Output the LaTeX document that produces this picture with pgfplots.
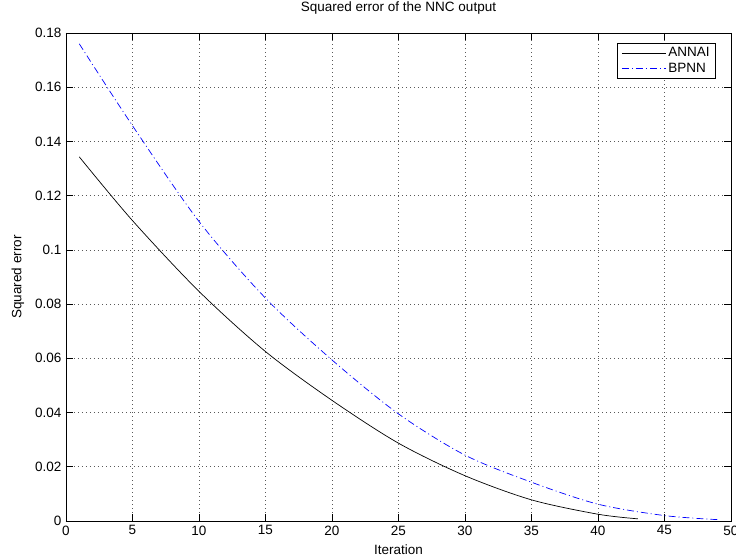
\documentclass[border=0pt]{standalone}
\usepackage{fontspec}
\setmainfont{Liberation Sans}
\usepackage{pgfplots}
\pgfplotsset{compat=1.18}

\begin{document}
\begin{tikzpicture}
\fontsize{13.5}{16}\selectfont
\begin{axis}[
    scale only axis,
    width=665pt, height=488pt,
    xmin=0, xmax=50,
    ymin=0, ymax=0.18,
    xtick={0,5,...,50},
    ytick={0,0.02,...,0.18},
    scaled y ticks=false,
    yticklabel style={/pgf/number format/fixed, /pgf/number format/precision=2},
    /pgf/number format/assume math mode=true,
    tick pos=both,
    tick align=inside,
    major tick length=7pt,
    tick style={black, line width=0.6pt},
    axis line style={black, line width=0.9pt},
    grid=major,
    grid style={black!65, line width=0.6pt, dash pattern=on 0.9pt off 3.1pt},
    title={Squared error of the NNC output},
    title style={at={(axis description cs:0.5,1)}, anchor=center, yshift=19pt},
    xlabel={Iteration},
    xlabel style={at={(axis description cs:0.5,0)}, anchor=center, yshift=-29pt},
    ylabel={Squared error},
    ylabel style={at={(axis description cs:-0.0722,0.5)}, anchor=center},
    legend style={at={(1,1)}, anchor=north east, xshift=-15pt, yshift=-10pt,
        draw=black, line width=0.9pt, fill=white, row sep=0pt,
        inner xsep=4pt, inner ysep=2pt, cells={anchor=west}},
    legend cell align=left,
    legend image post style={line width=0.6pt},
    legend image code/.code={\draw[#1] (0cm,0cm) -- (1.55cm,0cm);},
]
\addplot[black, line width=0.7pt, smooth] coordinates {
(1,0.1343) (5,0.1108) (10,0.0847) (15,0.0625) (20,0.0445) (25,0.0287)
(30,0.0167) (35,0.0078) (40,0.0025) (43,0.0008)
};
\addplot[blue, line width=0.7pt, smooth, dash pattern=on 7pt off 3pt on 1pt off 3pt] coordinates {
(1,0.1760) (5,0.1458) (10,0.1105) (15,0.0822) (20,0.0594) (25,0.0395)
(30,0.0243) (35,0.0143) (40,0.0062) (45,0.0020) (49,0.0005)
};
\legend{ANNAI, BPNN}
\end{axis}
\pgfresetboundingbox
\useasboundingbox (-66pt,-35pt) rectangle (670pt,521pt);
\end{tikzpicture}
\end{document}
